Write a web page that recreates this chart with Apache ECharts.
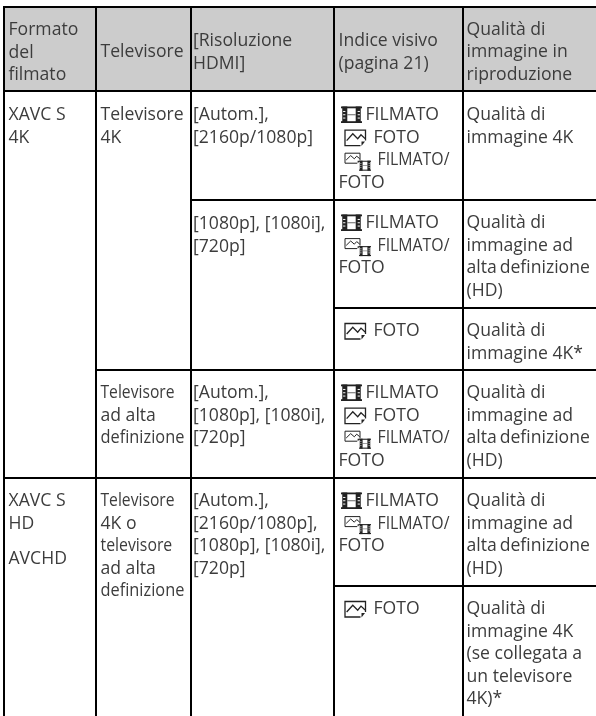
<!DOCTYPE html>
<html><head><meta charset="utf-8">
<style>html,body{margin:0;padding:0;background:#fff}#c{width:596px;height:716px}</style>
<script src="https://cdn.jsdelivr.net/npm/echarts@6/dist/echarts.min.js"></script>
</head><body><div id="c"></div>
<script>
const columnEdges = [4, 96, 191, 334, 463, 602];
const rowEdges = [7, 91, 200, 308, 370, 478, 586, 722];
// table structure: [colStart, colEnd, rowStart, rowEnd]
const cellSpans = [
  [0,1,0,1],[1,2,0,1],[2,3,0,1],[3,4,0,1],[4,5,0,1],
  [0,1,1,5],[1,2,1,4],[2,3,1,2],[3,4,1,2],[4,5,1,2],
  [2,3,2,4],[3,4,2,3],[4,5,2,3],[3,4,3,4],[4,5,3,4],
  [1,2,4,5],[2,3,4,5],[3,4,4,5],[4,5,4,5],
  [0,1,5,7],[1,2,5,7],[2,3,5,7],[3,4,5,6],[4,5,5,6],[3,4,6,7],[4,5,6,7]
];
const headerFill = '#cccccc';
const formatHeader = ['Formato','del','filmato'];
const tvHeader = ['Televisore'];
const hdmiHeader = ['[Risoluzione','HDMI]'];
const indexHeader = ['Indice visivo','(pagina 21)'];
const qualityHeader = ['Qualità di','immagine in','riproduzione'];
const format4K = ['XAVC S','4K'];
const formatHD = ['XAVC S','HD'];
const formatAVCHD = ['AVCHD'];
const tv4K = ['Televisore','4K'];
const tvHD = ['Televisore','ad alta','definizione'];
const tvBoth = ['Televisore','4K o','televisore','ad alta','definizione'];
const hdmiA = ['[Autom.],','[2160p/1080p]'];
const hdmiB = ['[1080p], [1080i],','[720p]'];
const hdmiC = ['[Autom.],','[1080p], [1080i],','[720p]'];
const hdmiD = ['[Autom.],','[2160p/1080p],','[1080p], [1080i],','[720p]'];
const qual4K = ['Qualità di','immagine 4K'];
const qualHD = ['Qualità di','immagine ad','alta\u2009definizione','(HD)'];
const qual4KStar = ['Qualità di','immagine 4K*'];
const qual4KTv = ['Qualità di','immagine 4K','(se collegata a','un televisore','4K)*'];
const viewAll = [['film','FILMATO'],['photo','FOTO'],['both','FILMATO/'],['','FOTO']];
const viewMovie = [['film','FILMATO'],['both','FILMATO/'],['','FOTO']];
const viewPhoto = [['photo','FOTO']];

const textX = [8.5, 100.5, 193, 338.5, 466.5];
const iconTextX = {film:365.5, photo:373.5, both:377.5, '':338.5};
const lineStep = 22.6;
// horizontal squeeze of some lines, as the source sets them tighter
const narrowTvHD = [0.89,1,0.93];
const narrowTvBoth = [0.89,1,0.9,1,0.93];
const narrowIconLabel = 0.9;
// [column, first line centre y, lines, per-line squeeze]
const textBlocks = [
  [0,30,formatHeader],[1,52,tvHeader],[2,41,hdmiHeader],[3,41,indexHeader],[4,29.5,qualityHeader],
  [0,115,format4K],[1,115,tv4K],[2,115,hdmiA],[3,115,viewAll],[4,115,qual4K],
  [2,224,hdmiB],[3,223,viewMovie],[4,223,qualHD],
  [3,331,viewPhoto],[4,331,qual4KStar],
  [1,393,tvHD,narrowTvHD],[2,393,hdmiC],[3,393,viewAll],[4,393,qualHD],
  [0,501,formatHD],[0,559,formatAVCHD],[1,501,tvBoth,narrowTvBoth],[2,501,hdmiD],[3,501,viewMovie],[4,501,qualHD],
  [3,609,viewPhoto],[4,609,qual4KTv]
];
const ink = '#3c3c3c';
const iconInk = '#222222';
const textFont = '"Open Sans"';
const textSize = 17.6;

const textRows = [], iconRows = [], textSqueeze = [];
textBlocks.forEach(([col,y0,lines,squeeze])=>{
  lines.forEach((ln,i)=>{
    const y = y0 + i*lineStep;
    if (Array.isArray(ln)) {
      textRows.push([iconTextX[ln[0]], y, ln[1]]);
      textSqueeze.push(ln[0]==='both'?narrowIconLabel:1);
      if (ln[0]) iconRows.push([iconTextX[ln[0]], y, ln[0]]);
    } else {
      textRows.push([textX[col], y, ln]);
      textSqueeze.push(squeeze?squeeze[i]:1);
    }
  });
});

function filmShape(x,y,w,h,k){
  const r=[];
  const rect=(a,b,rw,rh,c)=>r.push({type:'rect',shape:{x:x+a,y:y+b,width:rw,height:rh},style:{fill:c||iconInk}});
  const strip=w*0.24;
  rect(0,0,w,1.8*k);rect(0,h-1.8*k,w,1.8*k);
  rect(w*0.06,0,strip,h);rect(w-w*0.06-strip,0,strip,h);
  rect(strip+w*0.06,h/2-0.5,w-2*(strip+w*0.06),k,'#666666');
  [0.3,0.5,0.7].forEach(f=>{ rect(w*0.1,h*f-0.5,strip*0.45,k,'#ffffff'); rect(w-w*0.1-strip*0.45,h*f-0.5,strip*0.45,k,'#ffffff'); });
  return r;
}
function photoShape(x,y,w,h,s,lw){
  return [
    {type:'polyline',shape:{points:[[x+w-s*5,y+h],[x,y+h],[x,y],[x+w,y],[x+w,y+h-s*5]]},style:{fill:null,stroke:iconInk,lineWidth:lw}},
    {type:'polyline',shape:{points:[[x+w*0.08,y+h*0.68],[x+w*0.38,y+h*0.24],[x+w*0.62,y+h*0.56],[x+w*0.78,y+h*0.3],[x+w*0.98,y+h*0.55]]},style:{fill:null,stroke:iconInk,lineWidth:lw}},
    {type:'polygon',shape:{points:[[x+w-s*4,y+h+0.5],[x+w-s*0.5,y+h-s*4],[x+w-s*4,y+h-s*4]]},style:{fill:iconInk}}
  ];
}
function renderCell(params, api){
  const s=cellSpans[params.dataIndex];
  const c0=api.coord([columnEdges[s[0]],rowEdges[s[2]]]);
  const c1=api.coord([columnEdges[s[1]],rowEdges[s[3]]]);
  return {type:'rect',shape:{x:c0[0],y:c0[1],width:c1[0]-c0[0],height:c1[1]-c0[1]},
    style:{fill:s[2]===0?headerFill:'#ffffff',stroke:'#000000',lineWidth:2}};
}
function renderText(params, api){
  const p=api.coord([api.value(0),api.value(1)]);
  return {type:'text',x:p[0],y:p[1],scaleX:textSqueeze[params.dataIndex],
    style:{x:0,y:0,text:textRows[params.dataIndex][2],fill:ink,
    font:'400 '+textSize+'px '+textFont,align:'left',verticalAlign:'middle'}};
}
function renderIcon(params, api){
  const p=api.coord([api.value(0),api.value(1)]);
  const t=iconRows[params.dataIndex][2];
  const x=p[0], y=p[1];
  let ch;
  if(t==='film') ch=filmShape(x-24.5,y-8.5,21,16.5,1);
  else if(t==='photo') ch=photoShape(x-28.5,y-7.5,20.5,15.5,1,1.3);
  else ch=photoShape(x-32.5,y-7,15,10,0.6,1).concat(filmShape(x-18.5,y+0.5,12,10,0.6));
  return {type:'group',children:ch};
}
const chart=echarts.init(document.getElementById('c'),null,{renderer:'canvas',width:596,height:716});
chart.setOption({
  animation:false,
  grid:{left:0,right:0,top:0,bottom:0},
  xAxis:{type:'value',min:0,max:596,show:false},
  yAxis:{type:'value',min:0,max:716,inverse:true,show:false},
  series:[
    {type:'custom',coordinateSystem:'cartesian2d',data:cellSpans,renderItem:renderCell,clip:false,silent:true,z:1,encode:{x:[0,1],y:[2,3]}},
    {type:'custom',coordinateSystem:'cartesian2d',data:textRows.map(r=>[r[0],r[1]]),renderItem:renderText,clip:false,silent:true,z:2,encode:{x:0,y:1}},
    {type:'custom',coordinateSystem:'cartesian2d',data:iconRows.map(r=>[r[0],r[1]]),renderItem:renderIcon,clip:false,silent:true,z:3,encode:{x:0,y:1}}
  ]
});
</script></body></html>
